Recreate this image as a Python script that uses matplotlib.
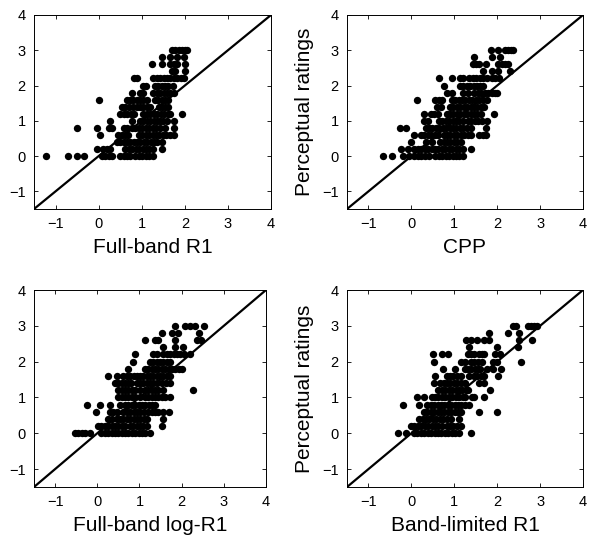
import matplotlib.pyplot as plt
import numpy as np

plt.rcParams["font.family"] = ["Liberation Sans", "DejaVu Sans"]

# perceptual rating levels (rows of dots) and the measure value of each dot
full_band_r1 = {
    3.0: [1.70, 1.78, 1.86, 1.93, 2.00, 2.06],
    2.8: [1.47, 1.66, 1.82, 1.97],
    2.6: [1.24, 1.47, 1.66, 1.75, 1.82, 2.00],
    2.4: [1.70, 1.78, 2.00],
    2.2: [0.82, 0.89, 1.27, 1.35, 1.43, 1.51, 1.58, 1.66, 1.74, 1.82, 1.90, 1.97],
    2.0: [1.02, 1.10, 1.30, 1.38, 1.46, 1.54, 1.62, 1.72],
    1.8: [0.77, 0.96, 1.04, 1.27, 1.35, 1.43, 1.51, 1.58, 1.66, 1.74],
    1.6: [0.00, 0.65, 0.72, 0.80, 0.88, 0.96, 1.04, 1.12, 1.30, 1.38, 1.46, 1.54, 1.62],
    1.4: [0.54, 0.62, 0.70, 0.80, 0.88, 0.96, 1.04, 1.12, 1.20, 1.39, 1.47, 1.55, 1.62],
    1.2: [0.50, 0.58, 0.66, 0.74, 0.81, 1.04, 1.12, 1.20, 1.28, 1.36, 1.44, 1.52, 1.60, 1.66, 1.93],
    1.0: [0.27, 0.77, 0.96, 1.04, 1.12, 1.20, 1.28, 1.36, 1.43, 1.50, 1.58, 1.74],
    0.8: [-0.51, -0.04, 0.23, 0.30, 0.58, 0.65, 0.77, 0.85, 0.93, 1.01, 1.09, 1.17, 1.25, 1.33, 1.43, 1.55, 1.74],
    0.6: [0.03, 0.46, 0.54, 0.62, 0.69, 0.93, 1.01, 1.09, 1.17, 1.25, 1.33, 1.41, 1.49, 1.57, 1.65, 1.74],
    0.4: [0.42, 0.50, 0.58, 0.66, 0.73, 0.81, 0.89, 0.97, 1.05, 1.13, 1.21, 1.29, 1.35, 1.47],
    0.2: [-0.04, 0.11, 0.19, 0.27, 0.62, 0.70, 0.78, 0.86, 0.94, 1.02, 1.10, 1.18, 1.27, 1.47],
    0.0: [-1.22, -0.70, -0.51, -0.34, 0.07, 0.15, 0.23, 0.30, 0.50, 0.58, 0.66, 0.73, 0.85, 0.93, 1.01, 1.09, 1.17, 1.25],
}

cpp = {
    3.0: [1.85, 2.03, 2.19, 2.26, 2.32, 2.38],
    2.8: [1.47, 1.88, 2.07],
    2.6: [1.43, 1.51, 1.58, 1.73, 2.03, 2.11, 2.19, 2.26],
    2.4: [1.66, 1.88, 2.03, 2.30],
    2.2: [0.64, 0.94, 1.13, 1.20, 1.35, 1.43, 1.51, 1.59, 1.67, 1.77, 1.88, 1.96, 2.04],
    2.0: [0.75, 1.13, 1.21, 1.29, 1.37, 1.45, 1.53, 1.60, 1.66],
    1.8: [0.83, 0.94, 1.20, 1.32, 1.47, 1.55, 1.63, 1.71, 1.79, 1.87, 1.95, 2.00],
    1.6: [0.14, 0.56, 0.64, 0.72, 0.94, 1.02, 1.10, 1.18, 1.26, 1.34, 1.42, 1.50, 1.58, 1.66, 1.77],
    1.4: [0.60, 0.68, 0.90, 0.98, 1.06, 1.14, 1.22, 1.30, 1.38, 1.46, 1.54, 1.62, 1.70],
    1.2: [0.30, 0.45, 0.53, 0.61, 0.82, 0.90, 0.98, 1.06, 1.14, 1.22, 1.30, 1.38, 1.46, 1.54, 1.62, 1.92],
    1.0: [0.30, 0.38, 0.64, 0.72, 0.80, 0.88, 0.96, 1.04, 1.12, 1.20, 1.32, 1.40, 1.48, 1.56, 1.64, 1.77],
    0.8: [-0.27, -0.12, 0.33, 0.41, 0.49, 0.57, 0.65, 0.73, 0.81, 0.89, 0.97, 1.05, 1.13, 1.21, 1.29, 1.39, 1.73],
    0.6: [0.07, 0.22, 0.30, 0.38, 0.46, 0.54, 0.62, 0.75, 0.83, 0.91, 0.99, 1.07, 1.15, 1.23, 1.31, 1.39, 1.58, 1.66, 1.73],
    0.4: [0.00, 0.33, 0.48, 0.67, 0.75, 0.83, 0.91, 0.99, 1.07, 1.16],
    0.2: [-0.23, -0.08, 0.07, 0.15, 0.23, 0.31, 0.39, 0.47, 0.55, 0.63, 0.71, 0.79, 0.87, 0.95, 1.03, 1.11, 1.20, 1.39],
    0.0: [-0.65, -0.46, -0.20, -0.05, 0.07, 0.15, 0.23, 0.31, 0.41, 0.56, 0.64, 0.72, 0.80, 0.88, 0.96, 1.04, 1.12, 1.20],
}

full_band_log_r1 = {
    3.0: [1.84, 2.08, 2.20, 2.32, 2.53],
    2.8: [1.53, 1.76, 1.92, 2.40],
    2.6: [1.13, 1.37, 1.45, 1.84, 2.36, 2.47],
    2.4: [1.57, 1.84, 2.04],
    2.2: [0.89, 1.33, 1.41, 1.57, 1.65, 1.73, 1.81, 1.89, 1.97, 2.05, 2.20],
    2.0: [0.85, 1.25, 1.33, 1.41, 1.49, 1.57, 1.65, 1.72],
    1.8: [0.74, 1.13, 1.21, 1.29, 1.37, 1.45, 1.53, 1.61, 1.69, 1.77, 1.85, 1.93, 2.00],
    1.6: [0.26, 0.46, 0.62, 0.70, 0.78, 0.86, 0.94, 1.02, 1.09, 1.17, 1.25, 1.33, 1.41, 1.49, 1.57, 1.65, 1.72],
    1.4: [0.42, 0.50, 0.58, 0.66, 0.74, 0.81, 0.93, 1.01, 1.09, 1.17, 1.25, 1.33, 1.41, 1.53, 1.64, 1.72],
    1.2: [0.50, 0.58, 0.66, 0.74, 0.82, 0.90, 1.01, 1.13, 1.21, 1.29, 1.37, 1.45, 1.57, 2.28],
    1.0: [0.50, 0.58, 0.66, 0.74, 0.82, 0.90, 1.01, 1.13, 1.21, 1.29, 1.37, 1.45, 1.53, 1.61, 1.72],
    0.8: [-0.24, 0.06, 0.30, 0.54, 0.66, 0.74, 0.82, 0.90, 0.98, 1.06, 1.14, 1.22, 1.30, 1.37],
    0.6: [-0.02, 0.30, 0.38, 0.46, 0.62, 0.70, 0.78, 0.86, 0.94, 1.02, 1.10, 1.20, 1.29, 1.37, 1.45, 1.57, 1.69],
    0.4: [0.26, 0.34, 0.46, 0.54, 0.62, 0.70, 0.78, 0.86, 0.94, 1.02, 1.10, 1.17, 1.57],
    0.2: [0.02, 0.10, 0.18, 0.26, 0.34, 0.42, 0.50, 0.58, 0.66, 0.77, 0.85, 0.93, 1.01, 1.09, 1.17, 1.53],
    0.0: [-0.53, -0.45, -0.37, -0.29, -0.17, 0.10, 0.18, 0.26, 0.34, 0.42, 0.50, 0.58, 0.66, 0.74, 0.82, 0.90, 0.98, 1.06, 1.14, 1.25],
}

band_limited_r1 = {
    3.0: [2.37, 2.44, 2.71, 2.79, 2.86, 2.93],
    2.8: [1.82, 2.25, 2.52],
    2.6: [1.27, 1.39, 1.54, 1.69, 1.80, 2.52, 2.82],
    2.4: [1.35, 1.99, 2.48],
    2.2: [0.50, 0.71, 0.86, 1.31, 1.39, 1.46, 1.57, 1.65, 1.69, 1.95, 2.07],
    2.0: [0.52, 1.16, 1.24, 1.39, 1.47, 1.55, 1.65, 1.91, 1.99, 2.56],
    1.8: [0.74, 1.01, 1.24, 1.32, 1.40, 1.48, 1.56, 1.61, 1.76, 1.91, 2.10],
    1.6: [0.55, 0.82, 0.90, 0.98, 1.06, 1.16, 1.35, 1.46, 1.54, 1.62, 1.69, 2.03],
    1.4: [0.52, 0.67, 0.75, 0.83, 0.91, 0.99, 1.07, 1.15, 1.24, 1.57, 1.69],
    1.2: [0.63, 0.71, 0.79, 0.87, 0.95, 1.03, 1.11, 1.19, 1.27, 1.31, 1.84],
    1.0: [0.14, 0.29, 0.48, 0.56, 0.63, 0.71, 0.79, 0.87, 0.95, 1.05, 1.12, 1.20, 1.24, 1.42, 1.46, 1.69],
    0.8: [-0.20, 0.18, 0.37, 0.45, 0.53, 0.61, 0.69, 0.77, 0.85, 0.93, 1.01, 1.08, 1.16, 1.24, 1.35],
    0.6: [0.29, 0.37, 0.45, 0.53, 0.61, 0.69, 0.77, 0.85, 0.93, 1.01, 1.09, 1.16, 1.57, 1.99],
    0.4: [0.18, 0.26, 0.34, 0.42, 0.50, 0.58, 0.66, 0.74, 0.82, 0.93, 1.12],
    0.2: [-0.01, 0.07, 0.15, 0.23, 0.31, 0.39, 0.47, 0.55, 0.63, 0.71, 0.82, 0.90, 0.98, 1.06, 1.16],
    0.0: [-0.31, -0.12, 0.06, 0.14, 0.22, 0.30, 0.38, 0.46, 0.54, 0.62, 0.70, 0.78, 0.86, 0.94, 1.02, 1.12, 1.39],
}

xlabels = ["Full-band R1", "CPP", "Full-band log-R1", "Band-limited R1"]
ticks = [-1, 0, 1, 2, 3, 4]
lims = (-1.5, 4)


def _to_xy(rows):
    x = []
    y = []
    for rating, vals in rows.items():
        x += vals
        y += [rating] * len(vals)
    return np.array(x), np.array(y)


def _plot_panel(ax, rows, xlabel, ylabel=None):
    x, y = _to_xy(rows)
    ax.plot(lims, lims, color="black", linewidth=1.6, zorder=2)
    ax.scatter(x, y, s=28, color="black", linewidths=0, zorder=3)
    ax.set_xlim(lims)
    ax.set_ylim(lims)
    ax.set_xticks(ticks)
    ax.set_yticks(ticks)
    ax.tick_params(direction="in", top=True, right=True, length=3, width=0.6,
                   labelsize=10.5, pad=6)
    for s in ax.spines.values():
        s.set_linewidth(0.7)
    ax.set_xlabel(xlabel, fontsize=15, labelpad=5)
    if ylabel:
        ax.set_ylabel(ylabel, fontsize=15, labelpad=6)


fig = plt.figure(figsize=(5.89, 5.35), dpi=100)
W, H = 589.0, 535.0
# axes boxes in pixels: left, top, right, bottom
boxes = [(34, 15, 271, 209), (347, 15, 583, 209), (34, 290, 266, 487), (347, 290, 583, 487)]
panels = [full_band_r1, cpp, full_band_log_r1, band_limited_r1]
for i, (box, rows) in enumerate(zip(boxes, panels)):
    l, t, r, b = box
    ax = fig.add_axes([l / W, 1 - b / H, (r - l) / W, (b - t) / H])
    _plot_panel(ax, rows, xlabels[i], "Perceptual ratings" if i % 2 == 1 else None)

fig.savefig("out.png", dpi=100)
